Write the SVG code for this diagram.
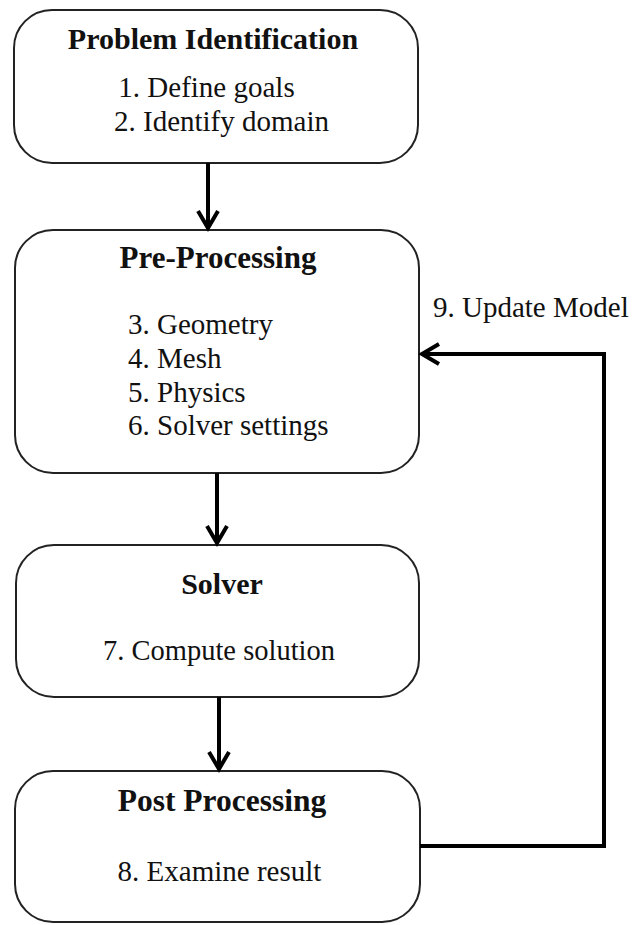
<svg xmlns="http://www.w3.org/2000/svg" width="636" height="925" viewBox="0 0 636 925">
<style>
.box{fill:#fff;stroke:#222;stroke-width:2}
.t{font-family:"Liberation Serif","Tinos","Times New Roman",serif;font-size:29px;fill:#111}
.b{font-weight:bold;text-anchor:middle;font-size:30px}
.c{text-anchor:middle}
.conn{fill:none;stroke:#000;stroke-width:4}
</style>
<defs>
<marker id="ah2" markerWidth="24" markerHeight="24" refX="20" refY="12" orient="auto" markerUnits="userSpaceOnUse" viewBox="0 0 24 24">
<path d="M3,2 L20,12 L3,22" fill="none" stroke="#000" stroke-width="4"/>
</marker>
</defs>
<rect width="636" height="925" fill="#fff"/>
<g id="problem-identification">
<rect class="box" x="14" y="10" width="404" height="153" rx="38"/>
<text class="t b" x="213" y="49">Problem Identification</text>
<text class="t c" x="206.5" y="97">1. Define goals</text>
<text class="t c" x="221.5" y="131">2. Identify domain</text>
</g>
<g id="pre-processing">
<rect class="box" x="15" y="230" width="404" height="243" rx="38"/>
<text class="t b" x="218" y="268" style="font-size:31px">Pre-Processing</text>
<text class="t" x="128" y="334">3. Geometry</text>
<text class="t" x="128" y="368">4. Mesh</text>
<text class="t" x="128" y="402">5. Physics</text>
<text class="t" x="128" y="435">6. Solver settings</text>
</g>
<g id="solver">
<rect class="box" x="16" y="545" width="403" height="152" rx="38"/>
<text class="t b" x="222" y="594">Solver</text>
<text class="t c" x="219" y="660" style="font-size:28.5px">7. Compute solution</text>
</g>
<g id="post-processing">
<rect class="box" x="15" y="771" width="405" height="151" rx="38"/>
<text class="t b" x="222" y="811" style="font-size:31.5px">Post Processing</text>
<text class="t c" x="219.5" y="881">8. Examine result</text>
</g>
<g id="connectors">
<line class="conn" x1="208" y1="163" x2="208" y2="228" marker-end="url(#ah2)"/>
<line class="conn" x1="217" y1="473" x2="217" y2="543" marker-end="url(#ah2)"/>
<line class="conn" x1="219" y1="697" x2="219" y2="769" marker-end="url(#ah2)"/>
<path class="conn" d="M420,846 H604 V354 H422" marker-end="url(#ah2)"/>
<text class="t" x="433" y="317">9. Update Model</text>
</g>
</svg>
